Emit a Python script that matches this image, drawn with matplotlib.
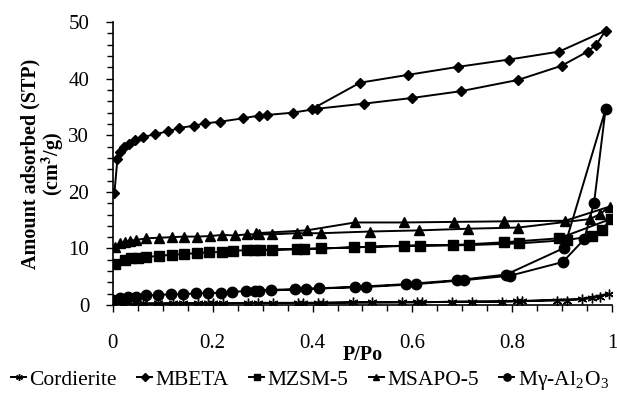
import numpy as np
import matplotlib
matplotlib.use('Agg')  # No DISPLAY
import matplotlib.pyplot as plt
from matplotlib.ticker import MultipleLocator
plt.rcParams.update({'font.family': ['Liberation Serif', 'DejaVu Serif'],
                     'font.size': 15, 'mathtext.fontset': 'stix'})

# N2 isotherms: adsorption branch followed by desorption branch (P/Po, cm3/g)
cord_x = [0.003, 0.02, 0.04, 0.06, 0.09, 0.12, 0.14, 0.17, 0.19, 0.22, 0.27, 0.29,
          0.32, 0.37, 0.38, 0.42, 0.48, 0.52, 0.58, 0.62, 0.68, 0.72, 0.78, 0.82,
          0.89, 0.91, 0.96, 0.975, 0.993,
          0.94, 0.81, 0.61, 0.41, 0.2, 0.02]
cord_y = [0.1, 0.2, 0.2, 0.3, 0.3, 0.3, 0.3, 0.3, 0.3, 0.3, 0.4, 0.4,
          0.4, 0.4, 0.4, 0.4, 0.5, 0.5, 0.5, 0.5, 0.6, 0.6, 0.6, 0.7,
          0.8, 0.8, 1.2, 1.5, 2.0,
          1.1, 0.7, 0.5, 0.4, 0.3, 0.2]

beta_x = [0.003, 0.009, 0.014, 0.022, 0.033, 0.045, 0.061, 0.084, 0.110, 0.133,
          0.162, 0.184, 0.214, 0.260, 0.293, 0.309, 0.360, 0.409, 0.503, 0.599,
          0.697, 0.812, 0.899, 0.951, 0.968, 0.987,
          0.894, 0.794, 0.691, 0.592, 0.495, 0.398]
beta_y = [19.8, 25.8, 27.0, 28.0, 28.5, 29.2, 29.7, 30.2, 30.7, 31.3,
          31.7, 32.1, 32.4, 33.0, 33.5, 33.6, 34.0, 34.7, 35.6, 36.6,
          37.8, 39.8, 42.3, 44.8, 46.0, 48.5,
          44.8, 43.4, 42.1, 40.7, 39.3, 34.6]

zsm_x = [0.004, 0.024, 0.037, 0.051, 0.067, 0.093, 0.118, 0.143, 0.168, 0.192,
         0.219, 0.241, 0.268, 0.295, 0.318, 0.368, 0.416, 0.516, 0.615, 0.714,
         0.814, 0.910, 0.960, 0.979, 0.997,
         0.894, 0.784, 0.682, 0.583, 0.483, 0.383, 0.283]
zsm_y = [7.3, 8.0, 8.3, 8.4, 8.5, 8.7, 8.9, 9.0, 9.2, 9.3,
         9.4, 9.6, 9.7, 9.7, 9.8, 9.9, 10.0, 10.3, 10.5, 10.6,
         10.9, 11.5, 12.2, 13.2, 15.2,
         11.8, 11.1, 10.6, 10.5, 10.2, 9.9, 9.7]

sapo_x = [0.004, 0.014, 0.024, 0.034, 0.047, 0.067, 0.093, 0.118, 0.143, 0.169,
          0.194, 0.219, 0.244, 0.269, 0.293, 0.319, 0.368, 0.417, 0.515, 0.614,
          0.712, 0.812, 0.956, 0.976, 0.995,
          0.906, 0.784, 0.683, 0.583, 0.485, 0.388, 0.286]
sapo_y = [10.3, 10.9, 11.2, 11.4, 11.5, 11.8, 11.9, 12.0, 12.1, 12.1,
          12.2, 12.4, 12.3, 12.5, 12.5, 12.5, 12.7, 12.7, 13.0, 13.2,
          13.5, 13.7, 15.2, 16.1, 17.4,
          14.9, 14.8, 14.7, 14.6, 14.6, 13.2, 12.7]

alu_x = [0.001, 0.014, 0.031, 0.046, 0.067, 0.091, 0.116, 0.141, 0.166, 0.191,
         0.216, 0.238, 0.266, 0.293, 0.316, 0.365, 0.413, 0.508, 0.607, 0.704,
         0.796, 0.901, 0.944, 0.964, 0.987,
         0.904, 0.788, 0.690, 0.587, 0.485, 0.387, 0.285]
alu_y = [0.9, 1.2, 1.4, 1.5, 1.7, 1.8, 1.9, 1.9, 2.1, 2.1,
         2.2, 2.3, 2.5, 2.5, 2.7, 2.8, 3.0, 3.2, 3.7, 4.4,
         5.2, 7.6, 11.6, 18.1, 34.6,
         10.1, 5.4, 4.4, 3.7, 3.2, 2.8, 2.5]

series = [
    ('Cordierite', cord_x, cord_y, dict(marker=(6, 2, 0), ms=7, mew=1.0)),
    ('MBETA', beta_x, beta_y, dict(marker='D', ms=5.5)),
    ('MZSM-5', zsm_x, zsm_y, dict(marker='s', ms=7)),
    ('MSAPO-5', sapo_x, sapo_y, dict(marker='^', ms=7)),
    ('M\u03b3-Al$_\\mathregular{2}$O$_\\mathregular{3}$', alu_x, alu_y,
     dict(marker='o', ms=7.5)),
]

fig = plt.figure(figsize=(6.17, 4.03), dpi=100)
ax = fig.add_axes([0.183, 0.243, 0.809, 0.702])

for label, x, y, style in series:
    ax.plot(x, y, color='black', lw=1.4, mfc='black', mec='black',
            label=label, **style)

ax.set_xlim(0, 1)
ax.set_ylim(0, 50)
ax.xaxis.set_minor_locator(MultipleLocator(0.05))
ax.yaxis.set_major_locator(MultipleLocator(10))
ax.yaxis.set_minor_locator(MultipleLocator(2))
ax.set_xticks([0, 0.2, 0.4, 0.6, 0.8, 1.0])
ax.set_xticklabels(['0', '0.2', '0.4', '0.6', '0.8', '1'])
ax.tick_params(which='both', direction='out', width=1.0, labelsize=15)
ax.tick_params(which='major', length=5)
ax.tick_params(which='minor', length=4)
ax.tick_params(axis='x', which='major', pad=16)
ax.tick_params(axis='y', which='major', pad=12)
for side in ('top', 'right'):
    ax.spines[side].set_visible(False)
for side in ('left', 'bottom'):
    ax.spines[side].set_linewidth(1.2)

ax.set_xlabel('P/Po', fontweight='bold', fontsize=14.5, labelpad=-6)
ax.set_ylabel('Amount adsorbed (STP)\n(cm$^\\mathbf{3}$/g)', fontweight='bold',
              fontsize=14.5, linespacing=0.95, labelpad=2)

fig.legend(loc='center', bbox_to_anchor=(0.502, 0.057),
           ncol=5, frameon=False, fontsize=15.5, handlelength=0.7,
           handletextpad=0.15, columnspacing=0.95, borderaxespad=0,
           borderpad=0, markerscale=0.7)

fig.savefig('out.png', dpi=100)
plt.close('all')
